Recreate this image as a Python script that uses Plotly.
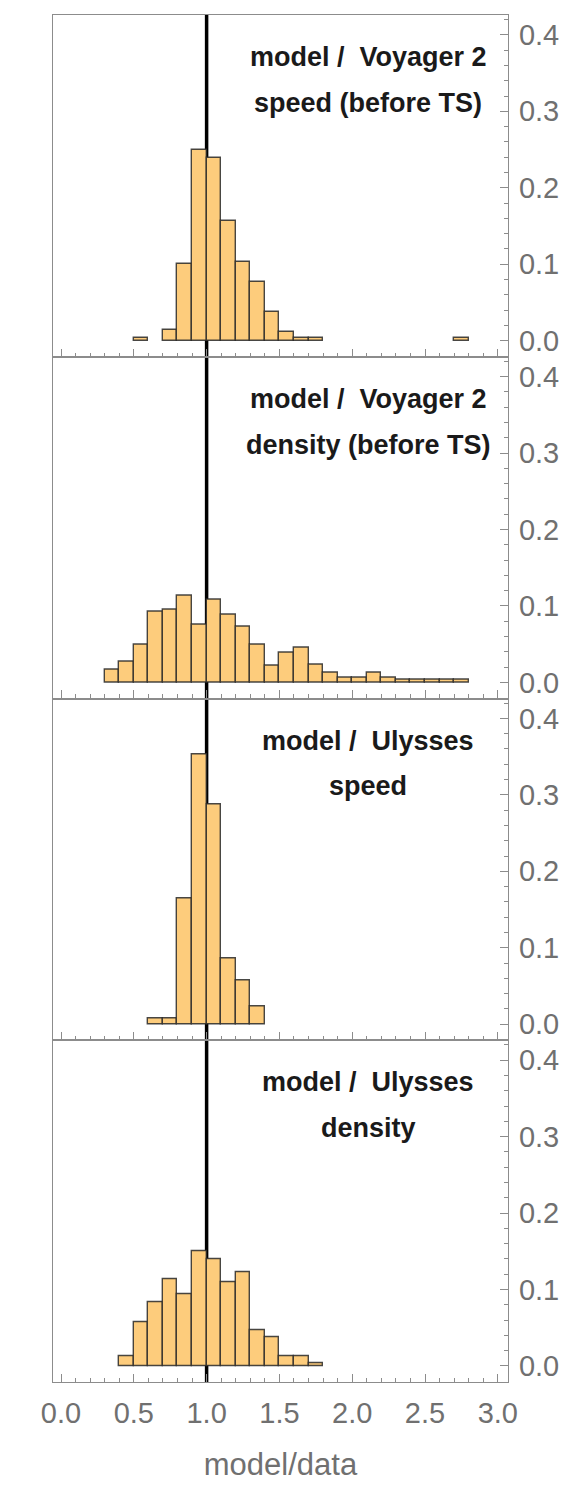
import plotly.graph_objects as go
from plotly.subplots import make_subplots

# Histogram bin width and the left edge of each bin per panel
BIN_WIDTH = 0.1

v2_speed_left = [0.5, 0.7, 0.8, 0.9, 1.0, 1.1, 1.2, 1.3, 1.4, 1.5, 1.6, 1.7, 2.7]
v2_speed_freq = [0.003, 0.014, 0.100, 0.249, 0.239, 0.156, 0.103, 0.077, 0.038, 0.011, 0.004, 0.004, 0.003]

v2_density_left = [0.3, 0.4, 0.5, 0.6, 0.7, 0.8, 0.9, 1.0, 1.1, 1.2, 1.3, 1.4, 1.5,
                   1.6, 1.7, 1.8, 1.9, 2.0, 2.1, 2.2, 2.3, 2.4, 2.5, 2.6, 2.7]
v2_density_freq = [0.0165, 0.027, 0.049, 0.093, 0.095, 0.113, 0.075, 0.108, 0.089, 0.073, 0.049, 0.022, 0.039,
                   0.046, 0.023, 0.0126, 0.0065, 0.0065, 0.0126, 0.0065, 0.0035, 0.0035, 0.004, 0.004, 0.0035]

uly_speed_left = [0.6, 0.7, 0.8, 0.9, 1.0, 1.1, 1.2, 1.3]
uly_speed_freq = [0.007, 0.007, 0.165, 0.353, 0.288, 0.086, 0.057, 0.0235]

uly_density_left = [0.4, 0.5, 0.6, 0.7, 0.8, 0.9, 1.0, 1.1, 1.2, 1.3, 1.4, 1.5, 1.6, 1.7]
uly_density_freq = [0.013, 0.057, 0.083, 0.113, 0.094, 0.150, 0.139, 0.110, 0.1225, 0.047, 0.037, 0.013, 0.013, 0.004]

panel_titles = [
    ("model /\u00a0 Voyager 2", "speed (before TS)"),
    ("model /\u00a0 Voyager 2", "density (before TS)"),
    ("model /\u00a0 Ulysses", "speed"),
    ("model /\u00a0 Ulysses", "density"),
]

panels = [
    (v2_speed_left, v2_speed_freq),
    (v2_density_left, v2_density_freq),
    (uly_speed_left, uly_speed_freq),
    (uly_density_left, uly_density_freq),
]

x_range = [-0.055, 3.07]
y_range = [-0.021, 0.426]
y_ticks = [0.0, 0.1, 0.2, 0.3, 0.4]
x_ticks = [0.0, 0.5, 1.0, 1.5, 2.0, 2.5, 3.0]

FRAME = "#8c8c8c"
LABEL = "#707070"
FILL = "rgb(253,204,124)"
EDGE = "rgba(40,40,40,0.85)"
FONT = "Liberation Sans"

fig = make_subplots(rows=4, cols=1, shared_xaxes=True, vertical_spacing=0)

for i, (left, freq) in enumerate(panels, start=1):
    centers = [a + BIN_WIDTH / 2 for a in left]
    fig.add_trace(
        go.Bar(
            x=centers, y=freq, width=BIN_WIDTH,
            marker=dict(color=FILL, line=dict(color=EDGE, width=1.4)),
            showlegend=False, hoverinfo="skip",
        ),
        row=i, col=1,
    )
    yref = "y" if i == 1 else f"y{i}"
    top, bottom = panel_titles[i - 1]
    fig.add_annotation(x=2.11, y=0.371, xref="x", yref=yref, text=top, showarrow=False,
                       xanchor="center", yanchor="middle",
                       font=dict(family=FONT, size=27, color="#1a1a1a", weight="bold"))
    fig.add_annotation(x=2.11, y=0.311, xref="x", yref=yref, text=bottom, showarrow=False,
                       xanchor="center", yanchor="middle",
                       font=dict(family=FONT, size=27, color="#1a1a1a", weight="bold"))

    fig.update_xaxes(
        range=x_range, tickvals=x_ticks, ticktext=[f"{v:.1f}" for v in x_ticks],
        ticks="inside", ticklen=8, tickwidth=1, tickcolor=FRAME,
        minor=dict(dtick=0.1, tick0=0, ticks="inside", ticklen=4, tickwidth=1, tickcolor=FRAME),
        showline=True, linecolor=FRAME, linewidth=1.3, mirror=True,
        showgrid=False, zeroline=False,
        showticklabels=(i == 4),
        tickfont=dict(family=FONT, size=29, color=LABEL),
        row=i, col=1,
    )
    fig.update_yaxes(
        range=y_range, side="right", tickvals=y_ticks, ticktext=[f"{v:.1f}" for v in y_ticks],
        ticks="inside", ticklen=8, tickwidth=1, tickcolor=FRAME,
        minor=dict(dtick=0.02, tick0=0, ticks="inside", ticklen=4, tickwidth=1, tickcolor=FRAME),
        showline=True, linecolor=FRAME, linewidth=1.3, mirror=True,
        showgrid=False, zeroline=False,
        tickfont=dict(family=FONT, size=29, color=LABEL),
        ticklabelstandoff=4,
        row=i, col=1,
    )

fig.update_xaxes(title=dict(text="model/data", font=dict(family=FONT, size=31, color=LABEL), standoff=25),
                 ticklabelstandoff=5, row=4, col=1)

# Reference line at model/data = 1 across all panels, beneath the bars
fig.add_shape(type="line", x0=1.0, x1=1.0, xref="x", y0=0, y1=1, yref="paper",
              line=dict(color="black", width=3.5), layer="below")

fig.update_layout(
    width=571, height=1488,
    margin=dict(l=53, r=61, t=15, b=105),
    paper_bgcolor="white", plot_bgcolor="white",
    bargap=0, showlegend=False,
)

fig.write_html("out.html")
